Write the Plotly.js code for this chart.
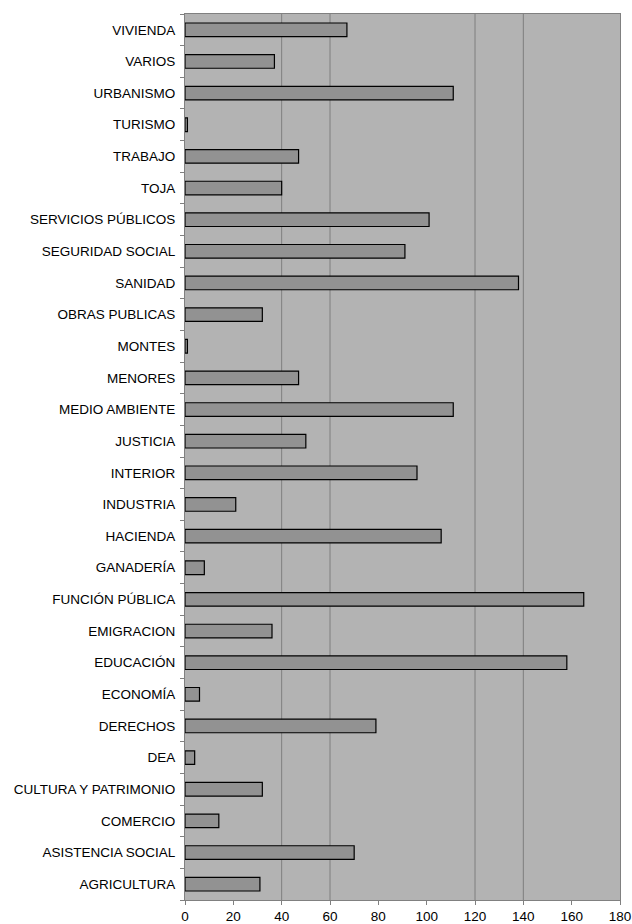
<!DOCTYPE html>
<html>
<head>
<meta charset="utf-8">
<script src="https://cdn.plot.ly/plotly-3.0.1.min.js"></script>
<style>
  html, body { margin: 0; padding: 0; background: #ffffff; }
  #chart { width: 632px; height: 924px; }
</style>
</head>
<body>
<div id="chart"></div>
<script>
const categories = [
  "AGRICULTURA", "ASISTENCIA SOCIAL", "COMERCIO", "CULTURA Y PATRIMONIO", "DEA",
  "DERECHOS", "ECONOMÍA", "EDUCACIÓN", "EMIGRACION", "FUNCIÓN PÚBLICA",
  "GANADERÍA", "HACIENDA", "INDUSTRIA", "INTERIOR", "JUSTICIA",
  "MEDIO AMBIENTE", "MENORES", "MONTES", "OBRAS PUBLICAS", "SANIDAD",
  "SEGURIDAD SOCIAL", "SERVICIOS PÚBLICOS", "TOJA", "TRABAJO", "TURISMO",
  "URBANISMO", "VARIOS", "VIVIENDA"
];
const values = [
  31, 70, 14, 32, 4,
  79, 6, 158, 36, 165,
  8, 106, 21, 96, 50,
  111, 47, 1, 32, 138,
  91, 101, 40, 47, 1,
  111, 37, 67
];
const xTickVals = [0, 20, 40, 60, 80, 100, 120, 140, 160, 180];
const gridVals = [40, 60, 120, 140];

const font = { family: "Liberation Sans, Arial, sans-serif", size: 13.5, color: "#000000" };

const trace = {
  type: "bar",
  orientation: "h",
  y: categories,
  x: values,
  width: 0.43,
  marker: { color: "#929292", line: { color: "#000000", width: 1.2 } },
  hoverinfo: "x+y"
};

const shapes = gridVals.map(v => ({
  type: "line", xref: "x", yref: "paper",
  x0: v, x1: v, y0: 0, y1: 1,
  line: { color: "#7f7f7f", width: 1 },
  layer: "below"
}));

const layout = {
  width: 632,
  height: 924,
  margin: { l: 185, r: 12, t: 14, b: 24, pad: 0 },
  paper_bgcolor: "#ffffff",
  plot_bgcolor: "#b3b3b3",
  showlegend: false,
  font: font,
  shapes: shapes,
  xaxis: {
    range: [0, 180],
    tickvals: xTickVals,
    ticktext: xTickVals.map(String),
    showgrid: false,
    zeroline: false,
    showline: true,
    linecolor: "#808080",
    linewidth: 1,
    mirror: true,
    ticks: "outside",
    ticklen: 4,
    tickcolor: "#808080",
    ticklabelstandoff: 0,
    tickfont: font,
    fixedrange: true
  },
  yaxis: {
    type: "category",
    categoryorder: "array",
    categoryarray: categories,
    range: [-0.5, categories.length - 0.5],
    showgrid: false,
    zeroline: false,
    showline: true,
    linecolor: "#808080",
    linewidth: 1,
    mirror: true,
    ticks: "outside",
    tickson: "boundaries",
    ticklen: 4,
    tickcolor: "#808080",
    ticklabelstandoff: 6,
    tickfont: font,
    fixedrange: true
  }
};

Plotly.newPlot("chart", [trace], layout, { displayModeBar: false, staticPlot: true });
</script>
</body>
</html>
